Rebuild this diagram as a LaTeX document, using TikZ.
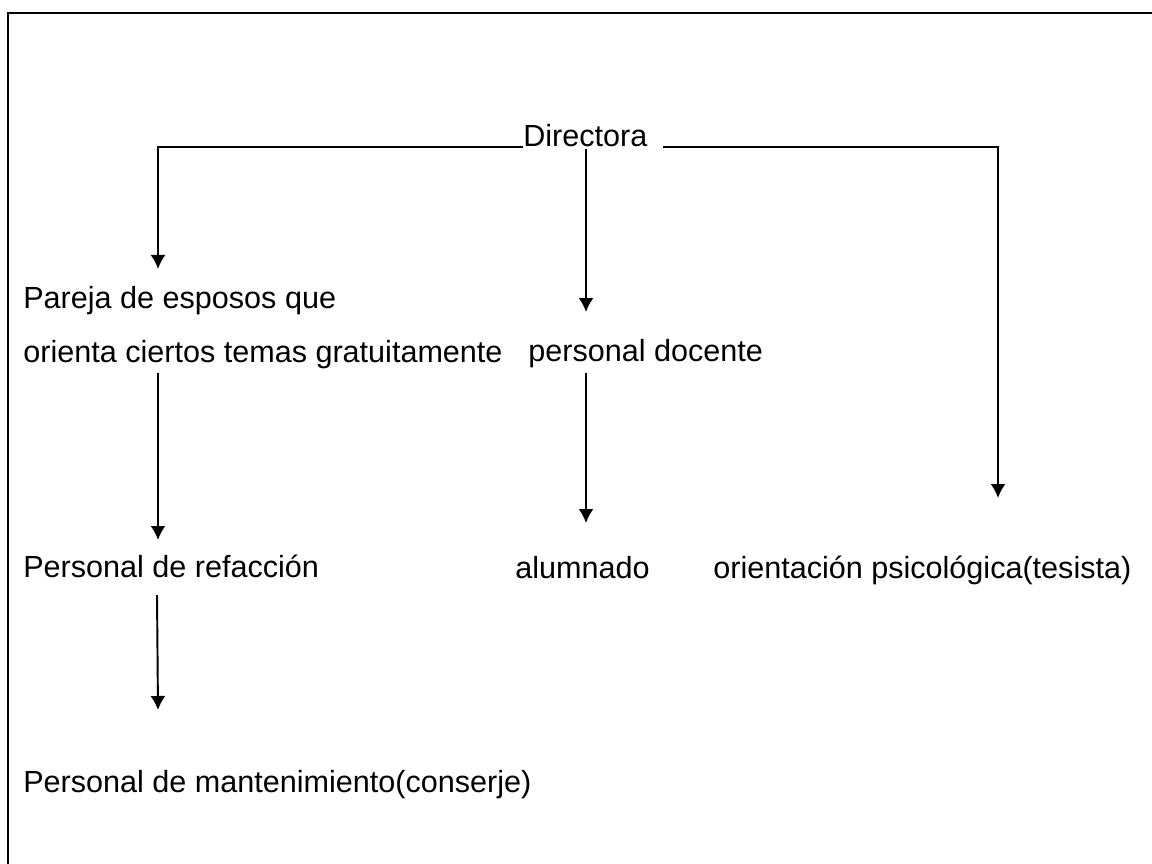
\documentclass[tikz,border=0pt]{standalone}
\usepackage{fontspec}
\setmainfont{Liberation Sans}
\usetikzlibrary{arrows.meta}
\tikzset{
  lbl/.style={anchor=base west, inner sep=0pt, font=\fontsize{17.4}{20}\selectfont},
  link/.style={line width=1.1pt},
}
\begin{document}
\begin{tikzpicture}[x=0.02cm,y=-0.02cm,>={Latex[length=0.28cm,width=0.3cm]}]
\useasboundingbox (0,0) rectangle (1152,864);
% frame
\draw[line width=1.6pt] (8,864)--(8,13)--(1152,13);

\node[lbl] (dir) at (523,147) {Directora};
\node[lbl] (pareja) at (23,309) {Pareja de esposos que};
\node[lbl] (orienta) at (23,363) {orienta ciertos temas gratuitamente};
\node[lbl] (docente) at (528,362) {personal docente};
\node[lbl] (refac) at (23,577) {Personal de refacción};
\node[lbl] (alumn) at (515,578) {alumnado};
\node[lbl] (psico) at (713,578) {orientación psicológica(tesista)};
\node[lbl] (mant) at (23,792) {Personal de mantenimiento(conserje)};

\coordinate (dm) at (586,149);
\coordinate (dr) at (663,147);
\coordinate (pa) at (158,269);
\coordinate (pd) at (586,312);
\coordinate (ps) at (998,498);
\coordinate (o1) at (158,373);\coordinate (o2) at (158,540);
\coordinate (d1) at (586,373);\coordinate (d2) at (586,523);
\coordinate (r1) at (157,595);\coordinate (r2) at (158,710);

\draw[link,->] (dir.base west) -| (pa);
\draw[link,->] (dm)--(pd);
\draw[link,->] (dr) -| (ps);
\draw[link,->] (o1)--(o2);
\draw[link,->] (d1)--(d2);
\draw[link,->] (r1)--(r2);
\end{tikzpicture}
\end{document}
